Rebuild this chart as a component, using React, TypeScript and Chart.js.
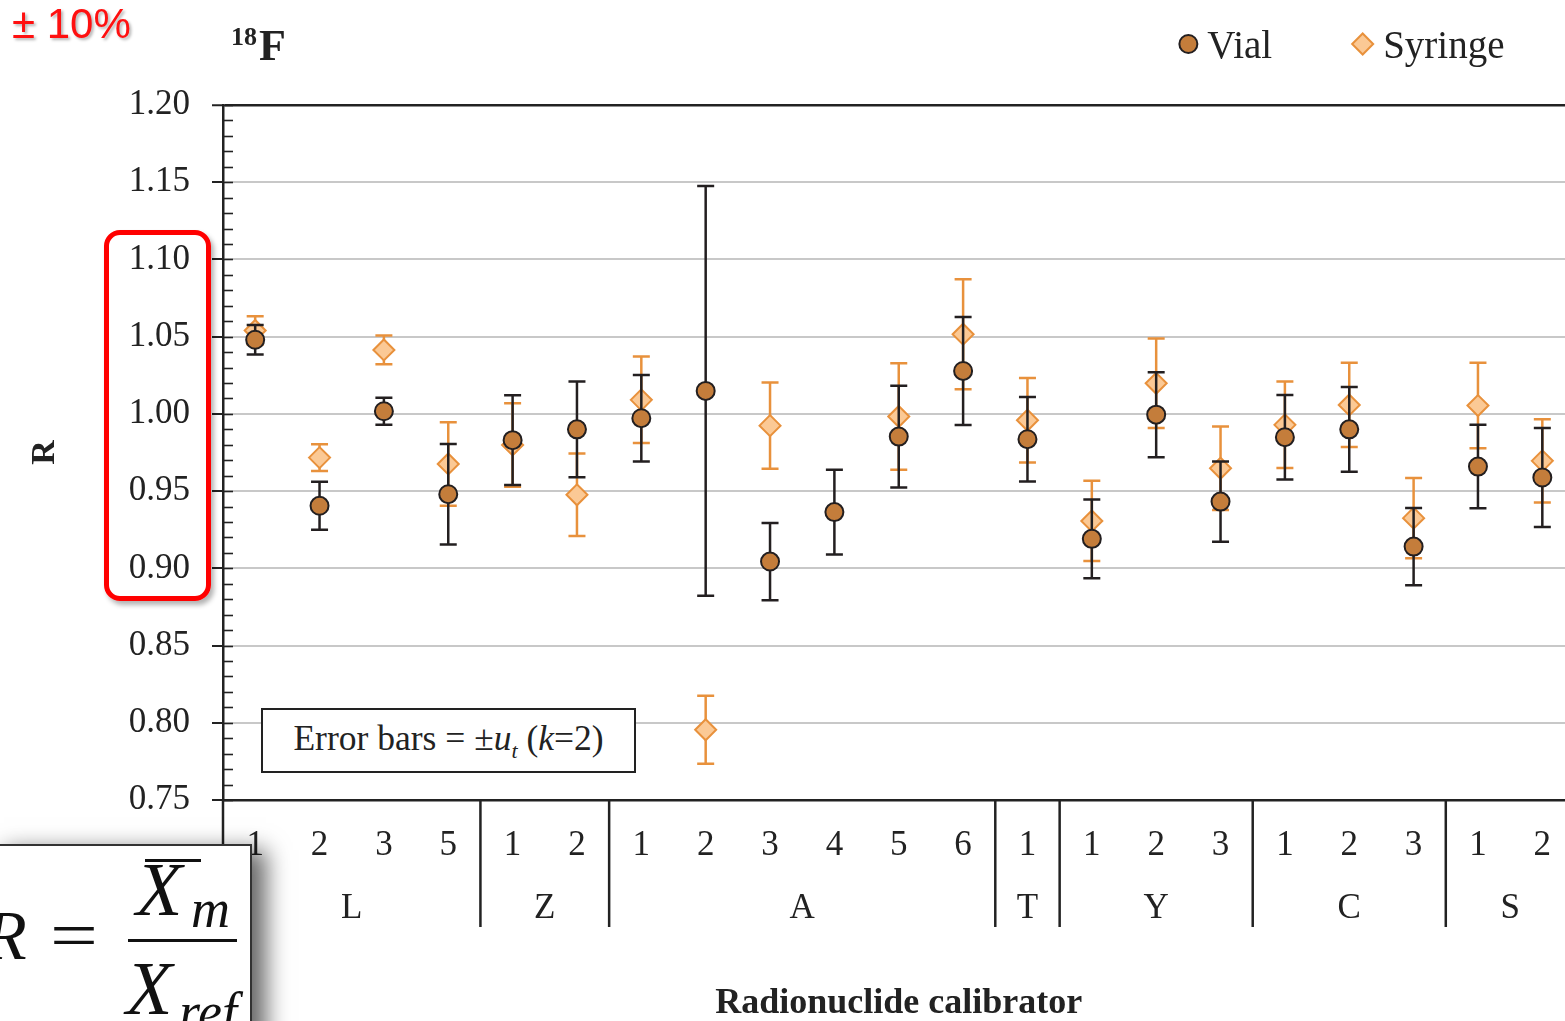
import React, { useEffect, useRef } from "react";
import { Chart, registerables } from "chart.js";

Chart.register(...registerables);

const FONT = "'Liberation Serif', 'Times New Roman', serif";
const CANVAS_W = 1587;
const CANVAS_H = 1040;

// ---- data ----
const categories = ["1", "2", "3", "5", "1", "2", "1", "2", "3", "4", "5", "6", "1", "1", "2", "3", "1", "2", "3", "1", "2"];
const groupNames = ["L", "Z", "A", "T", "Y", "C", "S"];
const groupSizes = [4, 2, 6, 1, 3, 3, 2];

const vialValues = [1.048, 0.9405, 1.0017, 0.948, 0.983, 0.99, 0.9972, 1.0149, 0.9044, 0.9364, 0.9853, 1.0278, 0.9836, 0.9191, 0.9995, 0.9432, 0.9849, 0.99, 0.9141, 0.9659, 0.9588];
const vialErrors = [0.0095, 0.0155, 0.0087, 0.0325, 0.029, 0.031, 0.028, 0.1326, 0.025, 0.0275, 0.033, 0.035, 0.0274, 0.0255, 0.0275, 0.026, 0.0274, 0.0274, 0.025, 0.027, 0.032];
const syringeValues = [1.054, 0.9717, 1.0414, 0.9676, 0.9799, 0.9476, 1.0091, 0.7955, 0.9924, null, 0.9983, 1.0516, 0.9959, 0.9307, 1.0198, 0.9648, 0.9929, 1.0058, 0.9325, 1.0054, 0.9696];
const syringeErrors = [0.0093, 0.0087, 0.0093, 0.027, 0.027, 0.0267, 0.028, 0.022, 0.028, null, 0.0345, 0.0356, 0.0274, 0.026, 0.029, 0.027, 0.028, 0.0273, 0.026, 0.0277, 0.027];

const yTickValues = [0.75, 0.8, 0.85, 0.9, 0.95, 1.0, 1.05, 1.1, 1.15, 1.2];
const yMin = 0.75;
const yMax = 1.2;
const minorTickValues = Array.from({ length: 46 }, (_, k) => (75 + k) / 100);

const seriesLabels = ["Vial", "Syringe"];
const nuclideTitle = { mass: "18", symbol: "F" };
const xTitle = "Radionuclide calibrator";
const yTitle = "R";

const errorBarPlugin = {
  id: "errorBars",
  beforeDatasetDraw(chart: any, args: any) {
    const ds = chart.data.datasets[args.index];
    const errs = ds.errors as (number | null)[];
    if (!errs) return;
    const meta = chart.getDatasetMeta(args.index);
    const y = chart.scales.y;
    const ctx = chart.ctx;
    ctx.save();
    ctx.strokeStyle = ds.errorColor;
    ctx.lineWidth = 2.5;
    meta.data.forEach((pt: any, i: number) => {
      const v = ds.data[i];
      const e = errs[i];
      if (v == null || e == null) return;
      const x = pt.x;
      const yt = y.getPixelForValue(v + e);
      const yb = y.getPixelForValue(v - e);
      const cap = 8.5;
      ctx.beginPath();
      ctx.moveTo(x, yt);
      ctx.lineTo(x, yb);
      ctx.moveTo(x - cap, yt);
      ctx.lineTo(x + cap, yt);
      ctx.moveTo(x - cap, yb);
      ctx.lineTo(x + cap, yb);
      ctx.stroke();
    });
    ctx.restore();
  },
};

const decorPlugin = {
  id: "decor",
  afterDraw(chart: any) {
    const { ctx, chartArea, scales } = chart;
    const x = scales.x;
    const y = scales.y;
    ctx.save();
    // minor ticks (inside)
    ctx.strokeStyle = "#222";
    ctx.lineWidth = 1.6;
    minorTickValues.forEach((v) => {
      const py = Math.round(y.getPixelForValue(v)) + 0.5;
      ctx.beginPath();
      ctx.moveTo(chartArea.left, py);
      ctx.lineTo(chartArea.left + 10, py);
      ctx.stroke();
    });
    // group separators and labels
    const sepBottom = chartArea.bottom + 127;
    ctx.lineWidth = 2.5;
    ctx.beginPath();
    ctx.moveTo(chartArea.left, chartArea.bottom);
    ctx.lineTo(chartArea.left, sepBottom);
    ctx.stroke();
    ctx.font = `35px ${FONT}`;
    ctx.fillStyle = "#222";
    ctx.textAlign = "center";
    ctx.textBaseline = "alphabetic";
    let start = 0;
    groupNames.forEach((g, gi) => {
      const end = start + groupSizes[gi];
      const leftPx = start === 0 ? chartArea.left : (x.getPixelForValue(start - 1) + x.getPixelForValue(start)) / 2;
      const rightPx = end >= categories.length ? chartArea.right : (x.getPixelForValue(end - 1) + x.getPixelForValue(end)) / 2;
      if (start > 0) {
        ctx.beginPath();
        ctx.moveTo(leftPx, chartArea.bottom);
        ctx.lineTo(leftPx, sepBottom);
        ctx.stroke();
      }
      ctx.fillText(g, (leftPx + rightPx) / 2, chartArea.bottom + 118);
      start = end;
    });

    // nuclide title
    ctx.textAlign = "left";
    ctx.font = `bold 26px ${FONT}`;
    ctx.fillText(nuclideTitle.mass, chartArea.left + 8, chartArea.top - 60);
    const mw = ctx.measureText(nuclideTitle.mass).width;
    ctx.font = `bold 44px ${FONT}`;
    ctx.fillText(nuclideTitle.symbol, chartArea.left + 10 + mw, chartArea.top - 45);

    // legend (right aligned)
    ctx.font = `39px ${FONT}`;
    const legendBaseline = chartArea.top - 47;
    const markerY = chartArea.top - 61;
    let xr = chartArea.right - 70;
    for (let i = chart.data.datasets.length - 1; i >= 0; i--) {
      const ds = chart.data.datasets[i];
      const w = ctx.measureText(ds.label).width;
      const tx = xr - w;
      ctx.fillStyle = "#222";
      ctx.fillText(ds.label, tx, legendBaseline);
      const r = ds.pointStyle === "circle" ? 9 : 10.5;
      const cx = tx - 10 - r;
      ctx.fillStyle = ds.pointBackgroundColor;
      ctx.strokeStyle = ds.pointBorderColor;
      ctx.lineWidth = 2;
      ctx.beginPath();
      if (ds.pointStyle === "circle") {
        ctx.arc(cx, markerY, r, 0, Math.PI * 2);
      } else {
        ctx.moveTo(cx - r, markerY);
        ctx.lineTo(cx, markerY - r);
        ctx.lineTo(cx + r, markerY);
        ctx.lineTo(cx, markerY + r);
        ctx.closePath();
      }
      ctx.fill();
      ctx.stroke();
      xr = cx - r - 80;
    }
    ctx.restore();
  },
};

export default function App() {
  const canvasRef = useRef<HTMLCanvasElement | null>(null);

  useEffect(() => {
    document.documentElement.style.overflow = "hidden";
    document.body.style.overflow = "hidden";
    const canvas = canvasRef.current;
    if (!canvas) return;
    const chart = new Chart(canvas, {
      type: "line",
      data: {
        labels: categories,
        datasets: [
          {
            label: seriesLabels[0],
            data: vialValues,
            errors: vialErrors,
            errorColor: "#231f20",
            showLine: false,
            pointStyle: "circle",
            pointRadius: 9,
            pointBackgroundColor: "#c47d3b",
            pointBorderColor: "#231f20",
            pointBorderWidth: 2,
            borderColor: "#231f20",
            backgroundColor: "#c47d3b",
          } as any,
          {
            label: seriesLabels[1],
            data: syringeValues,
            errors: syringeErrors,
            errorColor: "#e8913c",
            showLine: false,
            pointStyle: "rectRot",
            pointRadius: 10.5,
            pointBackgroundColor: "#fbc995",
            pointBorderColor: "#e8913c",
            pointBorderWidth: 2,
            borderColor: "#e8913c",
            backgroundColor: "#fbc995",
          } as any,
        ],
      },
      options: {
        responsive: false,
        animation: false,
        devicePixelRatio: 1,
        layout: { padding: { top: 105, right: 0, left: 0, bottom: 0 } },
        plugins: { legend: { display: false }, tooltip: { enabled: false } },
        scales: {
          x: {
            type: "category",
            offset: true,
            grid: { display: false, drawTicks: false },
            border: { display: true, color: "#222", width: 2.5 },
            ticks: { font: { family: FONT, size: 35 }, color: "#222", padding: 25, maxRotation: 0, autoSkip: false },
            title: {
              display: true,
              text: xTitle,
              font: { family: FONT, size: 36, weight: "bold" },
              color: "#222",
              padding: { top: 0, bottom: 15 },
            },
            afterFit: (scale: any) => {
              scale.height = 240;
              scale.paddingLeft = 0;
              scale.paddingRight = 0;
            },
          },
          y: {
            min: yMin,
            max: yMax,
            afterBuildTicks: (scale: any) => {
              scale.ticks = yTickValues.map((v) => ({ value: v }));
            },
            ticks: {
              font: { family: FONT, size: 35 },
              color: "#222",
              padding: 22,
              callback: (v: any) => Number(v).toFixed(2),
            },
            grid: {
              color: (c: any) => (c.tick && (c.tick.value > 1.199 || c.tick.value < 0.751) ? "#222" : "#c8c8c8"),
              lineWidth: (c: any) => (c.tick && c.tick.value > 1.199 ? 2.5 : 2),
              tickLength: 11,
              tickColor: "#222",
              tickWidth: 2,
            },
            border: { display: true, color: "#222", width: 2.5 },
            title: {
              display: true,
              text: yTitle,
              font: { family: FONT, size: 34, weight: "bold" },
              color: "#222",
              padding: { top: 25, bottom: 0 },
            },
            afterFit: (scale: any) => {
              scale.width = 223;
            },
          },
        },
      } as any,
      plugins: [errorBarPlugin, decorPlugin],
    });
    return () => chart.destroy();
  }, []);

  const formulaFont = "'Liberation Serif', 'Times New Roman', serif";

  return (
    <div style={{ position: "fixed", left: 0, top: 0, width: CANVAS_W, height: CANVAS_H, background: "#fff" }}>
      <canvas ref={canvasRef} width={CANVAS_W} height={CANVAS_H} style={{ display: "block" }} />

      {/* ±10% annotation */}
      <div
        style={{
          position: "absolute",
          left: 12,
          top: 1,
          fontFamily: "'Liberation Sans', Arial, sans-serif",
          fontSize: 42,
          lineHeight: "46px",
          color: "#ff1010",
          textShadow: "2px 2px 3px rgba(0,0,0,0.3)",
          whiteSpace: "nowrap",
        }}
      >
        ± 10%
      </div>

      {/* red highlight rectangle */}
      <div
        style={{
          position: "absolute",
          left: 104,
          top: 230,
          width: 107,
          height: 371,
          boxSizing: "border-box",
          border: "5px solid #ff0000",
          borderRadius: 16,
          boxShadow: "3px 4px 5px rgba(0,0,0,0.3)",
        }}
      />

      {/* error bars note */}
      <div
        style={{
          position: "absolute",
          left: 261,
          top: 708,
          width: 375,
          height: 65,
          boxSizing: "border-box",
          border: "2.5px solid #222",
          background: "#fff",
          display: "flex",
          alignItems: "center",
          justifyContent: "center",
          fontFamily: FONT,
          fontSize: 35.5,
          color: "#222",
          whiteSpace: "nowrap",
        }}
      >
        <span>
          Error bars = ±<i>u</i>
          <sub style={{ fontSize: 22 }}>
            <i>t</i>
          </sub>{" "}
          (<i>k</i>=2)
        </span>
      </div>

      {/* formula box */}
      <div
        style={{
          position: "absolute",
          left: -10,
          top: 844,
          width: 262,
          height: 200,
          boxSizing: "border-box",
          border: "2px solid #333",
          background: "#fff",
          boxShadow: "14px 6px 22px rgba(0,0,0,0.6)",
          overflow: "hidden",
          fontFamily: formulaFont,
          color: "#111",
        }}
      >
        <span style={{ position: "absolute", left: -8, top: 55, fontSize: 70, lineHeight: "70px", fontStyle: "italic" }}>R</span>
        <span
          style={{
            position: "absolute",
            left: 58,
            top: 55,
            fontSize: 68,
            lineHeight: "68px",
            display: "inline-block",
            transform: "scaleX(1.25)",
            transformOrigin: "left center",
          }}
        >
          =
        </span>
        <div style={{ position: "absolute", left: 153, top: 13, width: 56, height: 3, background: "#111" }} />
        <span style={{ position: "absolute", left: 144, top: 5, fontSize: 76, lineHeight: "76px", fontStyle: "italic" }}>X</span>
        <span style={{ position: "absolute", left: 199, top: 36, fontSize: 54, lineHeight: "54px", fontStyle: "italic" }}>m</span>
        <div style={{ position: "absolute", left: 136, top: 93, width: 109, height: 3, background: "#111" }} />
        <span style={{ position: "absolute", left: 134, top: 104, fontSize: 76, lineHeight: "76px", fontStyle: "italic" }}>X</span>
        <span style={{ position: "absolute", left: 187, top: 139, fontSize: 54, lineHeight: "54px", fontStyle: "italic" }}>ref</span>
      </div>
    </div>
  );
}
